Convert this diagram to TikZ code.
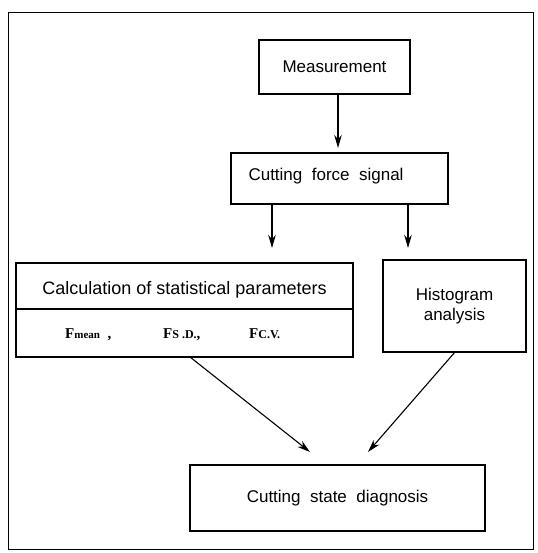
\documentclass[tikz,border=0pt]{standalone}
\usepackage{fontspec}
\setmainfont{Liberation Sans}
\newfontfamily\serifF{Liberation Serif}
\usetikzlibrary{arrows.meta}
\begin{document}
\begin{tikzpicture}[x=1pt,y=-1pt,
  box/.style={draw,line width=1.2pt,inner sep=0pt},
  lbl/.style={font=\fontsize{17}{20}\selectfont},
  flbl/.style={font=\serifF\bfseries\fontsize{15}{17}\selectfont,anchor=base west,inner sep=0pt},
  arr/.style={line width=1.1pt,-{Stealth[length=13pt,width=7.5pt]}}]
\useasboundingbox (0,0) rectangle (537,553);
\draw[line width=1pt] (8,13) rectangle (533,549);
% Measurement
\node[box,minimum width=151pt,minimum height=54pt] (meas) at (334.5,67) {};
\node[lbl] at (meas.center) {Measurement};
% Cutting force signal
\node[box,minimum width=217pt,minimum height=51pt] (sig) at (339.5,178.5) {};
\node[lbl,anchor=west] at (245,176) {Cutting\ \ force\ \ signal};
% Calculation box
\node[box,minimum width=337pt,minimum height=94pt] (calc) at (184.5,310) {};
\draw[line width=1.1pt] (16,309) -- (353,309);
\node[lbl,font=\fontsize{18}{20}\selectfont] at (184.5,290) {Calculation of statistical parameters};
\node[flbl] (f1) at (65,338) {F{\fontsize{11}{12}\selectfont mean}\ \ ,};
\node[flbl] (f2) at (163,338) {F{\fontsize{12}{13}\selectfont S .D.},};
\node[flbl] (f3) at (249,338) {F{\fontsize{12}{13}\selectfont C.V.}};
% Histogram box
\node[box,minimum width=143pt,minimum height=92pt] (hist) at (454.5,306) {};
\node[lbl,align=center] at (454.5,306) {Histogram\\analysis};
% Diagnosis box
\node[box,minimum width=295pt,minimum height=66pt] (diag) at (337.5,498) {};
\node[lbl] at (diag.center) {Cutting\ \ state\ \ diagnosis};
% coordinates
\coordinate (a1) at (338,94);
\coordinate (a2) at (338,148);
\coordinate (b1) at (272,204);
\coordinate (b2) at (272,248);
\coordinate (c1) at (408,204);
\coordinate (c2) at (408,248);
\coordinate (d1) at (190,357);
\coordinate (d2) at (310,452);
\coordinate (e1) at (455,352);
\coordinate (e2) at (368,452);
\draw[arr] (a1) -- (a2);
\draw[arr] (b1) -- (b2);
\draw[arr] (c1) -- (c2);
\draw[arr] (d1) -- (d2);
\draw[arr] (e1) -- (e2);
\end{tikzpicture}
\end{document}
